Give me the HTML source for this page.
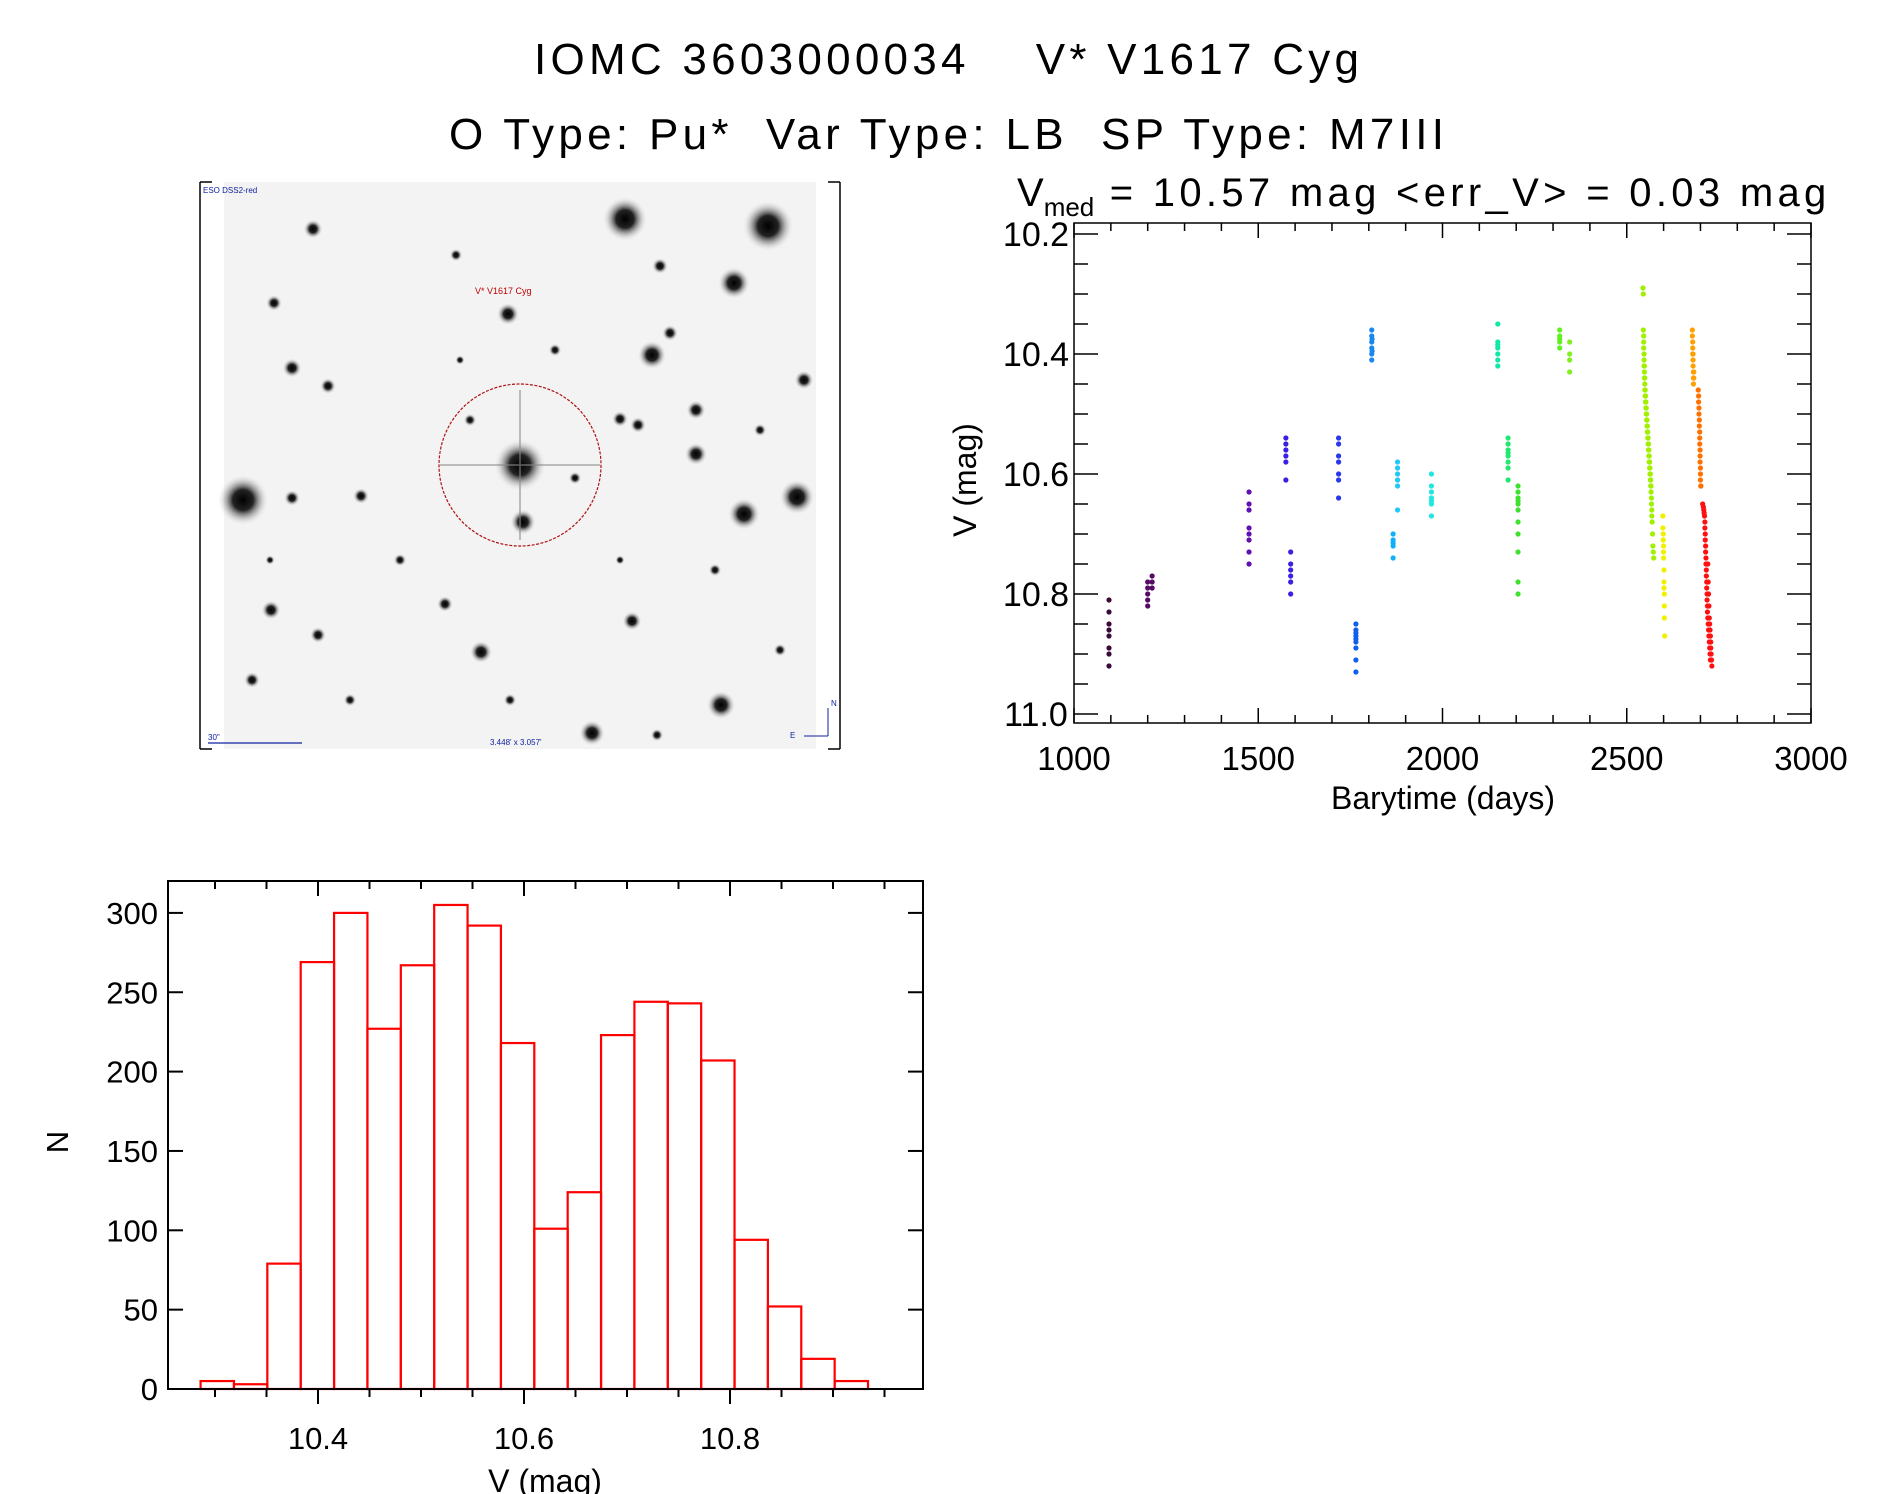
<!DOCTYPE html>
<html><head><meta charset="utf-8"><style>
html,body{margin:0;padding:0;background:#fff;}
svg{display:block;font-family:"Liberation Sans",sans-serif;}
</style></head><body>
<svg id="fig" width="1889" height="1494" viewBox="0 0 1889 1494" xmlns="http://www.w3.org/2000/svg">
<defs>
<radialGradient id="star"><stop offset="0" stop-color="#000"/><stop offset="0.4" stop-color="#222"/><stop offset="1" stop-color="#f2f2f2" stop-opacity="0"/></radialGradient>
</defs>
<text x="534" y="74" font-size="44" textLength="825" lengthAdjust="spacing">IOMC 3603000034 &#160;&#160; V* V1617 Cyg</text>
<text x="449" y="149" font-size="44" textLength="995" lengthAdjust="spacing">O Type: Pu* &#160;Var Type: LB &#160;SP Type: M7III</text>
<text x="1017" y="206" font-size="40">V<tspan font-size="26" dy="10">med</tspan><tspan dy="-10" textLength="732" lengthAdjust="spacing"> = 10.57 mag &lt;err_V&gt; = 0.03 mag</tspan></text>
<g id="sky"></g>
<g id="lc"></g>
<g id="hist"></g>
</svg>
<script>
// ---------- light curve data ----------
const lcTimes = [1095,1095,1095,1095,1095,1095,1095,1095,
1200,1200,1200,1200,1200,1212,1212,1212,
1475,1475,1475,1475,1475,1475,1475,1475,
1575,1575,1575,1575,1575,1575,1588,1588,1588,1588,1588,1588,
1718,1718,1718,1718,1718,1718,1718,
1765,1765,1765,1765,1765,1765,1765,1765,1765,
1808,1808,1808,1808,1808,1808,1809,1809,
1866,1866,1866,1866,1866,1878,1878,1878,1878,1878,1878,
1970,1970,1970,1970,1970,1970,1970,
2150,2150,2150,2150,2150,2150,2150,
2178,2178,2178,2178,2178,2178,2178,2178,2205,2205,2205,2205,2205,2205,2205,2205,2205,2205,2205,
2318,2318,2318,2318,2318,2345,2345,2345,2345,
2544,2545,2545,2546,2546,2546,2547,2547,2547,2548,2548,2548,2549,2549,2549,2550,2550,2551,2551,2552,2552,2553,2553,2554,2554,2555,2555,2556,2556,2557,2557,2558,2558,2559,2559,2560,2560,2561,2561,2562,2562,2563,2563,2564,2564,2565,2565,2566,2566,2567,2567,2568,2568,2569,2570,2571,2572,2573,
2598,2598,2599,2599,2600,2600,2600,2601,2601,2601,2602,2602,2602,2603,
2678,2678,2679,2679,2679,2680,2680,2680,2681,2681,2681,2682,2682,
2694,2695,2695,2696,2696,2697,2697,2698,2698,2698,2699,2699,2699,2700,2700,2700,2701,2701,
2706,2708,2709,2710,2711,2712,2712,2713,2713,2714,2714,2715,2715,2716,2716,2717,2717,2718,2718,2719,2719,2720,2720,2721,2721,2722,2722,2723,2723,2724,2724,2725,2725,2726,2726,2727,2727,2728,2728,2729,2730,2731];
const lcMags = [10.81,10.83,10.85,10.86,10.87,10.89,10.90,10.92,
10.78,10.79,10.80,10.81,10.82,10.77,10.78,10.79,
10.63,10.65,10.66,10.69,10.70,10.71,10.73,10.75,
10.54,10.55,10.56,10.57,10.58,10.61,10.73,10.75,10.76,10.77,10.78,10.80,
10.54,10.55,10.57,10.58,10.60,10.61,10.64,
10.85,10.86,10.865,10.87,10.875,10.88,10.89,10.91,10.93,
10.36,10.37,10.38,10.39,10.40,10.41,10.375,10.395,
10.70,10.71,10.715,10.72,10.74,10.58,10.59,10.60,10.61,10.62,10.66,
10.60,10.62,10.63,10.64,10.645,10.65,10.67,
10.35,10.38,10.385,10.39,10.40,10.41,10.42,
10.54,10.55,10.56,10.565,10.57,10.58,10.59,10.61,10.62,10.63,10.64,10.645,10.65,10.66,10.68,10.70,10.73,10.78,10.80,
10.36,10.37,10.375,10.38,10.39,10.38,10.40,10.41,10.43,
10.29,10.30,10.36,10.37,10.38,10.39,10.40,10.41,10.42,10.42,10.43,10.44,10.44,10.45,10.46,10.46,10.47,10.47,10.48,10.48,10.49,10.49,10.50,10.50,10.51,10.51,10.52,10.52,10.53,10.53,10.54,10.54,10.55,10.55,10.56,10.56,10.57,10.57,10.58,10.58,10.59,10.59,10.60,10.60,10.61,10.61,10.62,10.62,10.63,10.64,10.65,10.66,10.67,10.68,10.70,10.72,10.73,10.74,
10.67,10.69,10.70,10.71,10.72,10.73,10.74,10.76,10.78,10.79,10.80,10.82,10.84,10.87,
10.36,10.37,10.38,10.39,10.40,10.40,10.41,10.42,10.43,10.44,10.45,10.44,10.43,
10.46,10.47,10.48,10.49,10.50,10.51,10.52,10.53,10.54,10.55,10.56,10.57,10.58,10.59,10.60,10.61,10.62,10.62,
10.65,10.655,10.66,10.665,10.67,10.68,10.69,10.70,10.71,10.72,10.73,10.74,10.75,10.76,10.77,10.78,10.79,10.80,10.81,10.82,10.83,10.84,10.75,10.85,10.78,10.86,10.80,10.87,10.82,10.88,10.84,10.89,10.85,10.90,10.86,10.91,10.87,10.88,10.89,10.90,10.91,10.92];
const lcXTicks = [1000,1500,2000,2500,3000];
const lcYTicks = [10.2,10.4,10.6,10.8,11.0];
// ---------- histogram data ----------
const histStart = 10.286;
const histWidth = 0.0324;
const histCounts = [5,3,79,269,300,227,267,305,292,218,101,124,223,244,243,207,94,52,19,5];
const histXTicks = [10.4,10.6,10.8];
const histYTicks = [0,50,100,150,200,250,300];

const NS='http://www.w3.org/2000/svg';
function mk(tag,attrs,parent){const e=document.createElementNS(NS,tag);for(const k in attrs)e.setAttribute(k,attrs[k]);parent.appendChild(e);return e;}

// ---------- sky image ----------
const sky=document.getElementById('sky');
mk('rect',{x:224,y:182,width:592,height:567,fill:'#f3f3f3'},sky);
mk('path',{d:'M200,182 V749 M200,182 H212 M200,749 H212 M840,182 V749 M840,182 H828 M840,749 H828',stroke:'#000','stroke-width':1.5,fill:'none'},sky);
const stars=[[625,219,14],[768,226,16],[734,283,10],[508,314,7],[652,355,9],[243,500,16],[797,497,11],[744,514,10],[696,454,7],[523,522,8],[481,652,7],[721,705,9],[592,733,8],[271,610,6],[313,229,6],[292,368,6],[328,386,5],[632,621,6],[696,410,6],[620,419,5],[638,425,5],[804,380,6],[361,496,5],[292,498,5],[274,303,5],[456,255,4],[318,635,5],[445,604,5],[670,333,5],[660,266,5],[555,350,4],[470,420,4],[760,430,4],[252,680,5],[715,570,4],[575,478,4],[400,560,4],[350,700,4],[657,735,4],[460,360,3],[620,560,3],[780,650,4],[270,560,3],[510,700,4]];
stars.forEach(s=>{const c=mk('circle',{cx:s[0],cy:s[1],r:s[2]*1.6,fill:'url(#star)'},sky);

});
mk('circle',{cx:520,cy:465,r:26,fill:'url(#star)'},sky);
mk('path',{d:'M440,465 H600 M520,390 V540',stroke:'#888','stroke-width':1.5,opacity:0.7},sky);
const ring=mk('circle',{cx:520,cy:465,r:81,fill:'none',stroke:'#b01010','stroke-width':1.2,'stroke-dasharray':'3,1.5'},sky);


mk('text',{x:475,y:294,'font-size':9,fill:'#c00000'},sky).textContent='V* V1617 Cyg';
mk('text',{x:203,y:193,'font-size':8,fill:'#1020a0'},sky).textContent='ESO DSS2-red';
mk('text',{x:208,y:740,'font-size':8,fill:'#1020a0'},sky).textContent='30"';
mk('path',{d:'M208,743 H302',stroke:'#1020a0','stroke-width':1.2},sky);
mk('text',{x:490,y:745,'font-size':8,fill:'#1020a0'},sky).textContent='3.448\' x 3.057\'';
mk('path',{d:'M828,736 V708 M828,736 H804',stroke:'#1020a0','stroke-width':1},sky);
mk('text',{x:831,y:706,'font-size':8,fill:'#1020a0'},sky).textContent='N';
mk('text',{x:790,y:738,'font-size':8,fill:'#1020a0'},sky).textContent='E';

// ---------- light curve ----------
const lc=document.getElementById('lc');
const L={x0:1074,x1:1811,y0:223,y1:723};
const lx=t=>L.x0+(t-1000)*(L.x1-L.x0)/2000;
const ly=m=>234+(m-10.2)*600;
const colorBreaks=[1150,1300,1530,1650,1740,1790,1840,1872,1920,2100,2165,2190,2260,2330,2450,2580,2650,2690,2704,9999];
const colorList=['#3a0a3a','#550a66','#6010b0','#3a20e0','#2838ea','#1060f0','#1888f0','#10b0f8','#20c8f8','#20e8e0','#10e8a8','#20e870','#40e030','#60f020','#80f020','#a0f000','#f0f000','#ffa000','#ff7000','#ff1010'];
function lcColor(t){for(let i=0;i<colorBreaks.length;i++){if(t<colorBreaks[i])return colorList[i];}return '#ff1010';}
lcTimes.forEach((t,i)=>{const c=mk('circle',{cx:lx(t),cy:ly(lcMags[i]),r:2.6,fill:lcColor(t)},lc);

});
mk('rect',{x:L.x0,y:L.y0,width:L.x1-L.x0,height:L.y1-L.y0,fill:'none',stroke:'#000','stroke-width':1.5},lc);
for(let t=1000;t<=3000;t+=100){const X=lx(t);const len=(t%500===0)?15:8;
 mk('line',{x1:X,y1:L.y1,x2:X,y2:L.y1-len,stroke:'#000','stroke-width':1.5},lc);
 mk('line',{x1:X,y1:L.y0,x2:X,y2:L.y0+len,stroke:'#000','stroke-width':1.5},lc);}
for(let k=0;k<=16;k++){const m=10.2+k*0.05;const Y=ly(m);const len=(k%4===0)?24:14;
 mk('line',{x1:L.x0,y1:Y,x2:L.x0+len,y2:Y,stroke:'#000','stroke-width':1.5},lc);
 mk('line',{x1:L.x1,y1:Y,x2:L.x1-len,y2:Y,stroke:'#000','stroke-width':1.5},lc);}
lcXTicks.forEach(t=>{const e=mk('text',{x:lx(t),y:770,'font-size':33,'text-anchor':'middle'},lc);e.textContent=t;

});
lcYTicks.forEach(m=>{const e=mk('text',{x:1036,y:ly(m)+12,'font-size':34,'text-anchor':'middle'},lc);e.textContent=m.toFixed(1);

});
const lxt=mk('text',{x:1443,y:809,'font-size':32,'text-anchor':'middle'},lc);lxt.textContent='Barytime (days)';


const lyt=mk('text',{x:0,y:0,'font-size':32,'text-anchor':'middle',transform:'translate(976,480) rotate(-90)'},lc);lyt.textContent='V (mag)';



// ---------- histogram ----------
const hg=document.getElementById('hist');
const H={x0:168,x1:923,y0:881,y1:1389};
const hx=v=>318+(v-10.4)*1030;
const hy=n=>H.y1-n*1.587;
histCounts.forEach((n,i)=>{const a=histStart+i*histWidth;const b=a+histWidth;
 const r=mk('rect',{x:hx(a),y:hy(n),width:hx(b)-hx(a),height:H.y1-hy(n),fill:'none',stroke:'#ff0000','stroke-width':2.2},hg);
 
 });
mk('rect',{x:H.x0,y:H.y0,width:H.x1-H.x0,height:H.y1-H.y0,fill:'none',stroke:'#000','stroke-width':2},hg);
for(let k=0;k<=14;k++){const v=10.25+k*0.05;const X=hx(v);if(X<H.x0||X>H.x1)continue;const major=Math.abs(((v-10.4)/0.2)-Math.round((v-10.4)/0.2))<1e-6;const len=major?15:8;
 mk('line',{x1:X,y1:H.y1,x2:X,y2:H.y1+len,stroke:'#000','stroke-width':2},hg);
 mk('line',{x1:X,y1:H.y0,x2:X,y2:H.y0+len,stroke:'#000','stroke-width':2},hg);}
histYTicks.forEach(n=>{const Y=hy(n);
 mk('line',{x1:H.x0,y1:Y,x2:H.x0+15,y2:Y,stroke:'#000','stroke-width':2},hg);
 mk('line',{x1:H.x1,y1:Y,x2:H.x1-15,y2:Y,stroke:'#000','stroke-width':2},hg);
 const e=mk('text',{x:158,y:Y+11,'font-size':31,'text-anchor':'end'},hg);e.textContent=n;
 
 });
histXTicks.forEach(v=>{const e=mk('text',{x:hx(v),y:1449,'font-size':31,'text-anchor':'middle'},hg);e.textContent=v.toFixed(1);
 
 });
const hxt=mk('text',{x:545,y:1492,'font-size':32,'text-anchor':'middle'},hg);hxt.textContent='V (mag)';


const hyt=mk('text',{x:0,y:0,'font-size':31,'text-anchor':'middle',transform:'translate(68,1142) rotate(-90)'},hg);hyt.textContent='N';


</script>
</body></html>
